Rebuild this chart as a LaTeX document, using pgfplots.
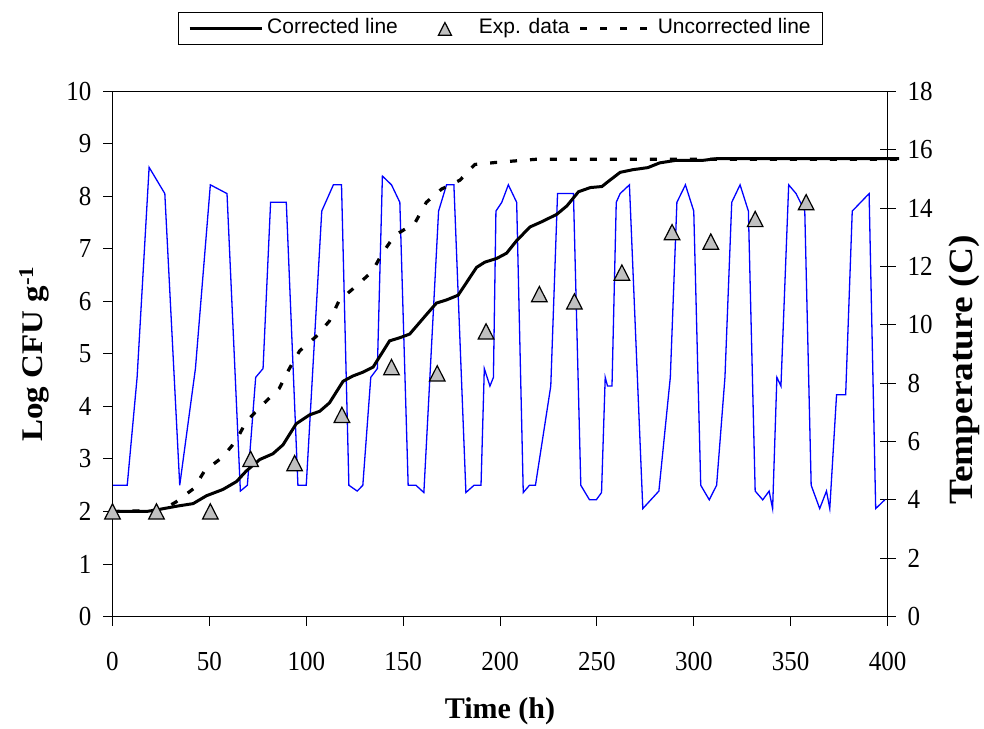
\documentclass[border=0pt]{standalone}
\usepackage{graphicx}
\usepackage{fontspec}
\setmainfont{Liberation Serif}
\setsansfont{Liberation Sans}
\usepackage{pgfplots}
\usepackage{pgfplotstable}
\pgfplotsset{compat=1.18}

\definecolor{tempblue}{RGB}{0,0,255}
\definecolor{markgray}{RGB}{192,192,192}

\pgfplotsset{
  long line legend/.style={legend image code/.code={\draw[##1] (0pt,0pt) -- (72pt,0pt);}},
  mark legend/.style={legend image code/.code={\path[draw=none] (0pt,0pt) -- (68pt,0pt); \draw[##1, mark size=7.5pt] plot coordinates {(38pt,0pt)};}},
}

% storage temperature profile (h, degrees C)
\pgfplotstableread{
h T
0 4.5
7.6 4.5
12.7 8.2
18.9 15.4
27 14.5
34.7 4.5
42.8 8.5
50.5 14.8
59.1 14.5
66 4.3
69.6 4.5
73.9 8.2
77.7 8.5
81.6 14.2
89.7 14.2
95.7 4.5
100 4.5
108 13.9
114 14.8
118.2 14.8
122 4.5
126.3 4.3
129.2 4.5
133.3 8.2
136.7 8.5
139.3 15.1
144 14.8
148.3 14.2
152.6 4.5
156.6 4.5
160.7 4.25
168.3 13.9
172.4 14.8
176.2 14.8
182.4 4.25
186.6 4.5
190.2 4.5
191.9 8.5
194.8 7.9
196.6 8.2
197.9 13.9
200.9 14.2
204.3 14.8
208.6 14.2
212 4.25
215.2 4.5
218.3 4.5
226.2 7.9
229.7 14.5
237.9 14.5
241.7 4.5
246.2 4.0
249.7 4.0
252.4 4.25
254.3 8.2
255.5 7.9
257.8 7.9
260 14.2
262 14.5
266.8 14.8
273.7 3.7
282 4.3
287.9 8.2
291.3 14.2
295.7 14.8
300 13.9
303.6 4.5
308 4.0
311.8 4.5
316.1 8.2
319.6 14.2
323.9 14.8
328.2 13.9
331.7 4.3
335.6 4.0
338.9 4.3
340.7 3.7
342.9 8.2
345 7.9
349 14.8
352.8 14.5
357.3 13.9
360.6 4.5
365 3.7
368.5 4.3
370.2 3.7
373.7 7.6
378.4 7.6
381.8 13.9
390.5 14.5
393.9 3.7
398.6 4.0
}\temptable

% growth predicted with the corrected model (log CFU/g)
\pgfplotstableread{
h L
0 2.0
17.5 2.0
22.7 2.03
33 2.1
41.6 2.15
48.5 2.3
57 2.42
64 2.57
69 2.77
76 2.99
82.8 3.1
88 3.27
94.8 3.67
101.7 3.84
107 3.91
112 4.07
119 4.48
124 4.58
129 4.65
134.5 4.75
143 5.25
148.3 5.31
153.4 5.38
162 5.75
167.2 5.97
172.4 6.03
178.4 6.12
187.9 6.65
192.2 6.75
198.3 6.82
203.4 6.92
208.6 7.16
215.5 7.42
221.6 7.52
229.3 7.66
234.5 7.82
240.5 8.09
246.6 8.17
252.6 8.19
256 8.29
262 8.46
268.5 8.51
276.3 8.55
282.4 8.64
291 8.69
305 8.69
311.8 8.72
406 8.72
}\correctedtable

% growth predicted without correction
\pgfplotstableread{
h L
0 2.0
22 2.02
28 2.08
32.7 2.18
42 2.44
47.6 2.78
56.7 3.03
63.6 3.34
69 3.71
77 4.02
86 4.34
91.4 4.73
96.6 5.06
105 5.33
112 5.63
117 6.02
125 6.27
134 6.57
139.3 6.92
145.7 7.26
156 7.49
162 7.89
169.8 8.14
179.3 8.31
187 8.61
198.3 8.65
208.6 8.68
219 8.71
406 8.71
}\uncorrectedtable

% measured counts
\pgfplotstableread{
h L
0 2.0
22.7 2.0
50.5 2.0
71.3 3.0
94 2.92
118.4 3.84
144 4.75
167.6 4.63
192.8 5.43
220.3 6.14
238.4 6.0
262.9 6.55
288.8 7.32
308.8 7.14
331.7 7.57
358 7.89
}\exptable

\begin{document}
\begin{tikzpicture}
\useasboundingbox (0,0) rectangle (984pt,728pt);
\pgfplotsset{
  chartframe/.style={
    at={(112.5pt,111.5pt)}, anchor=south west,
    scale only axis, width=775pt, height=525pt,
    xmin=0, xmax=400,
    clip=false,
    /pgf/number format/assume math mode=true,
    tick label style={font=\fontsize{25}{30}\selectfont, yscale=1.1, inner sep=0pt},
    every tick/.style={black, line width=1pt},
    axis line style={line width=1.3pt},
  }
}
% temperature, right-hand scale
\begin{axis}[chartframe,
  axis x line=none, axis y line*=right,
  ymin=0, ymax=18, ytick={0,2,...,18},
  tick align=center, major tick length=16pt,
  yticklabel style={anchor=west, xshift=12pt},
  ylabel={\scalebox{1.1}[1]{\fontsize{34}{40}\selectfont\bfseries Temperature (C)}},
  every axis y label/.style={at={(axis description cs:1.0987,0.4695)}, rotate=90, anchor=center},
]
\addplot[tempblue, line width=1.3pt] table[x=h, y=T] {\temptable};
\end{axis}
% microbial counts, left-hand scale
\begin{axis}[chartframe,
  ymin=0, ymax=10, ytick={0,...,10},
  xtick={0,50,...,400},
  xtick pos=left, ytick pos=left,
  tick align=outside, major tick length=9pt,
  yticklabel style={anchor=east, xshift=-12pt},
  xticklabel style={anchor=north, yshift=-24pt},
  xlabel={\fontsize{30}{36}\selectfont\bfseries Time (h)},
  every axis x label/.style={at={(axis description cs:0.5,-0.18)}, anchor=center},
  ylabel={\scalebox{1.1}[1]{\fontsize{30}{36}\selectfont\bfseries Log CFU g\textsuperscript{-1}}},
  every axis y label/.style={at={(axis description cs:-0.1013,0.5)}, rotate=90, anchor=center},
  legend columns=3,
  legend style={at={(axis description cs:0.5006,1.12)}, anchor=center,
    draw=black, line width=0.8pt, inner xsep=10pt, inner ysep=4.5pt,
    font=\sffamily\fontsize{21}{25}\selectfont,
    nodes={inner sep=2pt, text height=15pt, text depth=4.5pt},
    /tikz/every even column/.append style={column sep=7pt},
    /tikz/every odd column/.append style={column sep=2pt}},
]
\addplot[black, line width=3pt, long line legend]
  table[x=h, y=L] {\correctedtable};
\addlegendentry{Corrected line}
\addplot[only marks, mark=triangle*, mark size=9pt,
  mark options={fill=markgray, draw=black, line width=1.2pt, yscale=1.13, yshift=-2.2pt},
  mark legend]
  table[x=h, y=L] {\exptable};
\addlegendentry{Exp. data}
\addplot[black, line width=3.2pt, dash pattern=on 7pt off 13pt, long line legend]
  table[x=h, y=L] {\uncorrectedtable};
\addlegendentry{Uncorrected line}
\end{axis}
\end{tikzpicture}
\end{document}
